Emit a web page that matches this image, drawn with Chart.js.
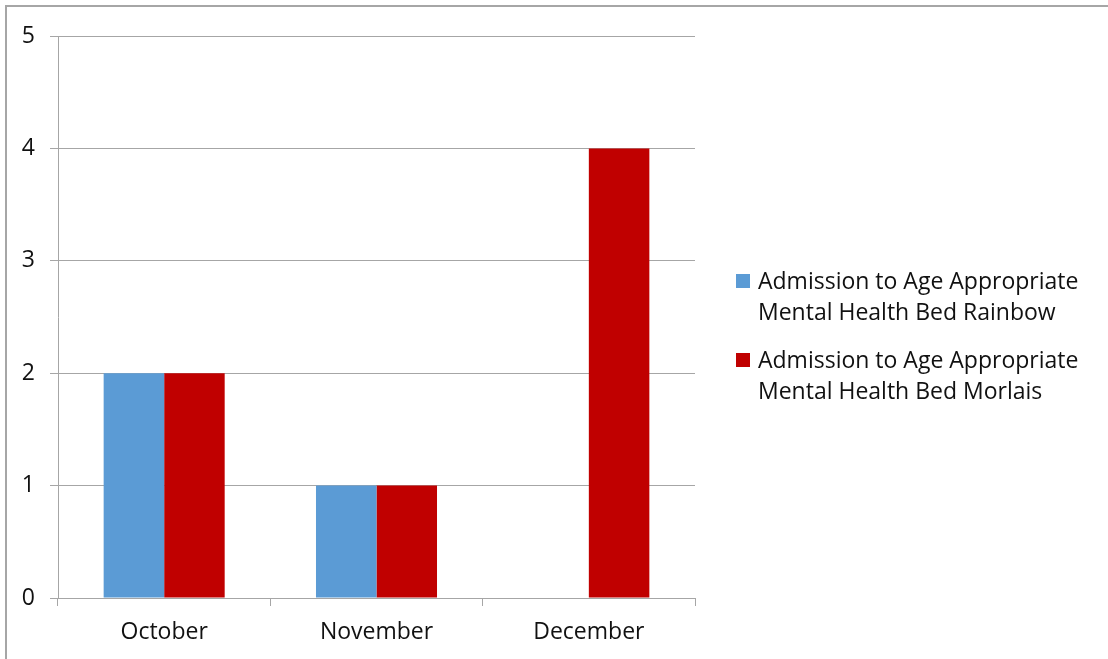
<!DOCTYPE html>
<html>
<head>
<meta charset="utf-8">
<script src="https://cdn.jsdelivr.net/npm/chart.js@4/dist/chart.umd.min.js"></script>
<style>
  html, body { margin:0; padding:0; background:#fff; }
  #wrap { position:relative; width:1108px; height:659px; overflow:hidden; }
  #frame { position:absolute; left:5px; top:5px; width:1200px; height:700px; border-left:2px solid #a6a6a6; border-top:2px solid #a6a6a6; }
  #chart { position:absolute; left:0; top:0; }
  #legend { position:absolute; left:736px; top:265px; font-family:"Open Sans", sans-serif; font-size:23px; color:#111; }
  .item { display:flex; align-items:flex-start; margin-bottom:17px; line-height:31px; }
  .box { width:14px; height:14px; margin-top:9px; margin-right:8px; flex:none; }
</style>
</head>
<body>
<div id="wrap">
  <div id="frame"></div>
  <canvas id="chart" width="1108" height="659"></canvas>
  <div id="legend"></div>
</div>
<script>
// ===== DADOS =====
let meses = ["October","November","December"];
let serieNomes = ["Admission to Age Appropriate Mental Health Bed Rainbow",
                  "Admission to Age Appropriate Mental Health Bed Morlais"];
let rainbow = [2,1,0];
let morlais = [2,1,4];
let cores = ["#5B9BD5","#C00000"];
let yTicks = [0,1,2,3,4,5];

// ===== LEGENDA =====
function renderLegenda(){
  let leg = document.getElementById("legend");
  leg.innerHTML = "";
  serieNomes.forEach((nome,i)=>{
    let div = document.createElement("div");
    div.className = "item";
    let box = document.createElement("div");
    box.className = "box";
    box.style.background = cores[i];
    let txt = document.createElement("div");
    // quebra em duas linhas como no original
    let partes = nome.split(" ");
    txt.innerHTML = partes.slice(0,4).join(" ") + "<br>" + partes.slice(4).join(" ");
    div.appendChild(box);
    div.appendChild(txt);
    leg.appendChild(div);
  });
}

// ===== GRÁFICO =====
Chart.defaults.font.family = '"Open Sans", sans-serif';
Chart.defaults.color = "#111";
let grade = "#a6a6a6";

new Chart(document.getElementById("chart"), {
  type: "bar",
  data: {
    labels: meses,
    datasets: [
      { label: serieNomes[0], data: rainbow, backgroundColor: cores[0] },
      { label: serieNomes[1], data: morlais, backgroundColor: cores[1] }
    ]
  },
  options: {
    responsive: false,
    animation: false,
    layout: { padding: { left: 0, top: 36, right: 413, bottom: 0 } },
    plugins: { legend: { display:false }, tooltip: { enabled:false } },
    datasets: { bar: { categoryPercentage: 0.57, barPercentage: 1 } },
    scales: {
      x: {
        grid: { drawOnChartArea:false, drawTicks:true, tickLength:8, color:grade, offset:true },
        border: { color:grade },
        ticks: { font:{ size:23 }, padding:13 },
        afterFit: s => { s.height = 61; }
      },
      y: {
        min: 0, max: 5,
        afterBuildTicks: s => { s.ticks = yTicks.map(v=>({value:v})); },
        grid: { color:grade, tickLength:8 },
        border: { color:grade },
        ticks: { font:{ size:23 }, padding:15 },
        afterFit: s => { s.width = 58; }
      }
    }
  }
});
renderLegenda();
</script>
</body>
</html>
